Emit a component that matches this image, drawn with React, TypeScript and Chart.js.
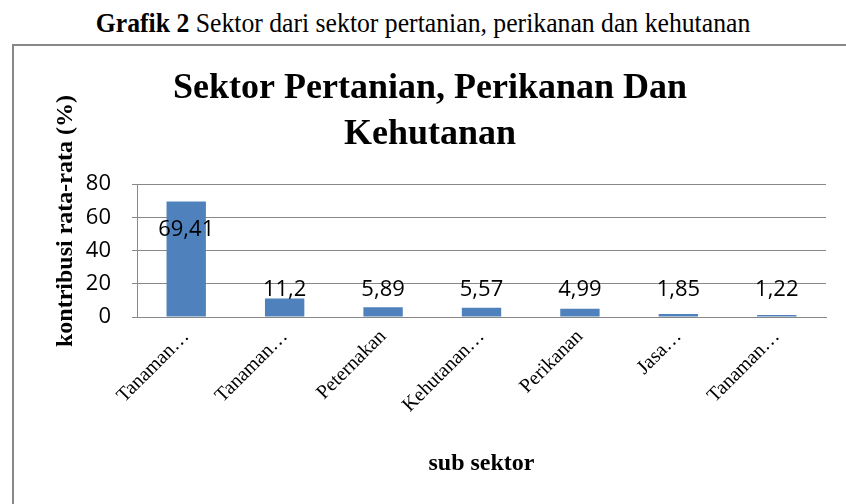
import React, { useEffect, useRef } from "react";
import { Chart, registerables } from "chart.js";

Chart.register(...registerables);

// ---- data ----
const categories = ["Tanaman…", "Tanaman…", "Peternakan", "Kehutanan…", "Perikanan", "Jasa…", "Tanaman…"];
const values = [69.41, 11.2, 5.89, 5.57, 4.99, 1.85, 1.22];
const yTickValues = [0, 20, 40, 60, 80];
const captionBold = "Grafik 2";
const captionRest = " Sektor dari sektor pertanian, perikanan dan kehutanan";
const chartTitle = ["Sektor Pertanian, Perikanan Dan", "Kehutanan"];
const yAxisTitle = "kontribusi rata-rata (%)";
const xAxisTitle = "sub sektor";

const formatValue = (v: number) => String(v).replace(".", ",");

const valueLabelPlugin = {
  id: "valueLabels",
  afterDatasetsDraw(chart: any, _args: any, opts: any) {
    const meta = chart.getDatasetMeta(0);
    const ys = chart.scales.y;
    const ctx = chart.ctx;
    ctx.save();
    ctx.font = opts.font;
    ctx.fillStyle = opts.color;
    ctx.textAlign = "center";
    ctx.textBaseline = "middle";
    meta.data.forEach((el: any, i: number) => {
      const level = opts.levels[i];
      ctx.fillText(formatValue(values[i]), el.x, ys.getPixelForValue(level));
    });
    ctx.restore();
  },
};

const yTitlePlugin = {
  id: "yTitle",
  afterDraw(chart: any, _args: any, opts: any) {
    const ctx = chart.ctx;
    ctx.save();
    ctx.translate(opts.x, opts.y);
    ctx.rotate(-Math.PI / 2);
    ctx.font = opts.font;
    ctx.fillStyle = opts.color;
    ctx.textAlign = "center";
    ctx.textBaseline = "middle";
    ctx.fillText(opts.text, 0, 0);
    ctx.restore();
  },
};

export default function App() {
  const ref = useRef<HTMLCanvasElement | null>(null);

  useEffect(() => {
    if (!ref.current) return;
    const chart = new Chart(ref.current, {
      type: "bar",
      data: {
        labels: categories,
        datasets: [
          {
            data: values,
            backgroundColor: "#4F81BD",
            borderWidth: 0,
            categoryPercentage: 1,
            barPercentage: 0.4,
          },
        ],
      },
      plugins: [valueLabelPlugin, yTitlePlugin],
      options: {
        responsive: false,
        animation: false,
        layout: { padding: 0 },
        plugins: {
          legend: { display: false },
          tooltip: { enabled: false },
          title: {
            display: true,
            text: chartTitle,
            color: "#000",
            font: { family: "Liberation Serif", size: 36, weight: "bold", lineHeight: 46 / 36 },
            padding: { top: 20, bottom: 26 },
          },
          valueLabels: {
            font: '22px "Open Sans"',
            color: "#000",
            levels: [52.3, 16.2, 16.2, 16.2, 16.2, 16.2, 16.2],
          },
          yTitle: {
            text: yAxisTitle,
            font: 'bold 24px "Liberation Serif"',
            color: "#000",
            x: 52,
            y: 175,
          },
        } as any,
        scales: {
          x: {
            grid: { display: false, drawTicks: false },
            border: { display: true, color: "#888", width: 1 },
            ticks: {
              color: "#000",
              font: { family: "Liberation Serif", size: 20 },
              maxRotation: 45,
              minRotation: 45,
              padding: 8,
              autoSkip: false,
            },
            title: {
              display: true,
              text: xAxisTitle,
              color: "#000",
              font: { family: "Liberation Serif", size: 24, weight: "bold", lineHeight: 1.2 },
              padding: { top: 0, bottom: 26 },
            },
            afterFit(s: any) {
              s.height = 187;
            },
          },
          y: {
            min: yTickValues[0],
            max: yTickValues[yTickValues.length - 1],
            ticks: {
              stepSize: yTickValues[1] - yTickValues[0],
              color: "#000",
              font: { family: "Open Sans", size: 22 },
              padding: 21,
            },
            grid: { color: "#888", lineWidth: 1, tickLength: 5, drawTicks: true },
            border: { display: true, color: "#888", width: 1 },
            afterFit(s: any) {
              s.width = 123;
            },
          },
          yRightSpace: {
            position: "right",
            display: true,
            grid: { display: false, drawTicks: false },
            border: { display: false },
            ticks: { display: false },
            afterFit(s: any) {
              s.width = 20;
            },
          },
        },
      } as any,
    });
    return () => chart.destroy();
  }, []);

  return (
    <div
      style={{
        position: "fixed",
        left: 0,
        top: 0,
        width: 846,
        height: 504,
        background: "#fff",
        overflow: "hidden",
      }}
    >
      <div
        style={{
          position: "absolute",
          left: 0,
          top: 7,
          width: 846,
          textAlign: "center",
          fontFamily: '"Liberation Serif"',
          fontSize: 28,
          lineHeight: "normal",
          whiteSpace: "nowrap",
          color: "#000",
          transform: "scaleX(0.918)",
          transformOrigin: "50% 50%",
        }}
      >
        <b>{captionBold}</b>
        {captionRest}
      </div>
      <div
        style={{
          position: "absolute",
          left: 12,
          top: 44,
          width: 850,
          height: 480,
          border: "2px solid #888",
          boxSizing: "border-box",
        }}
      />
      <canvas
        ref={ref}
        width={832}
        height={458}
        style={{ position: "absolute", left: 14, top: 46, width: 832, height: 458 }}
      />
    </div>
  );
}
